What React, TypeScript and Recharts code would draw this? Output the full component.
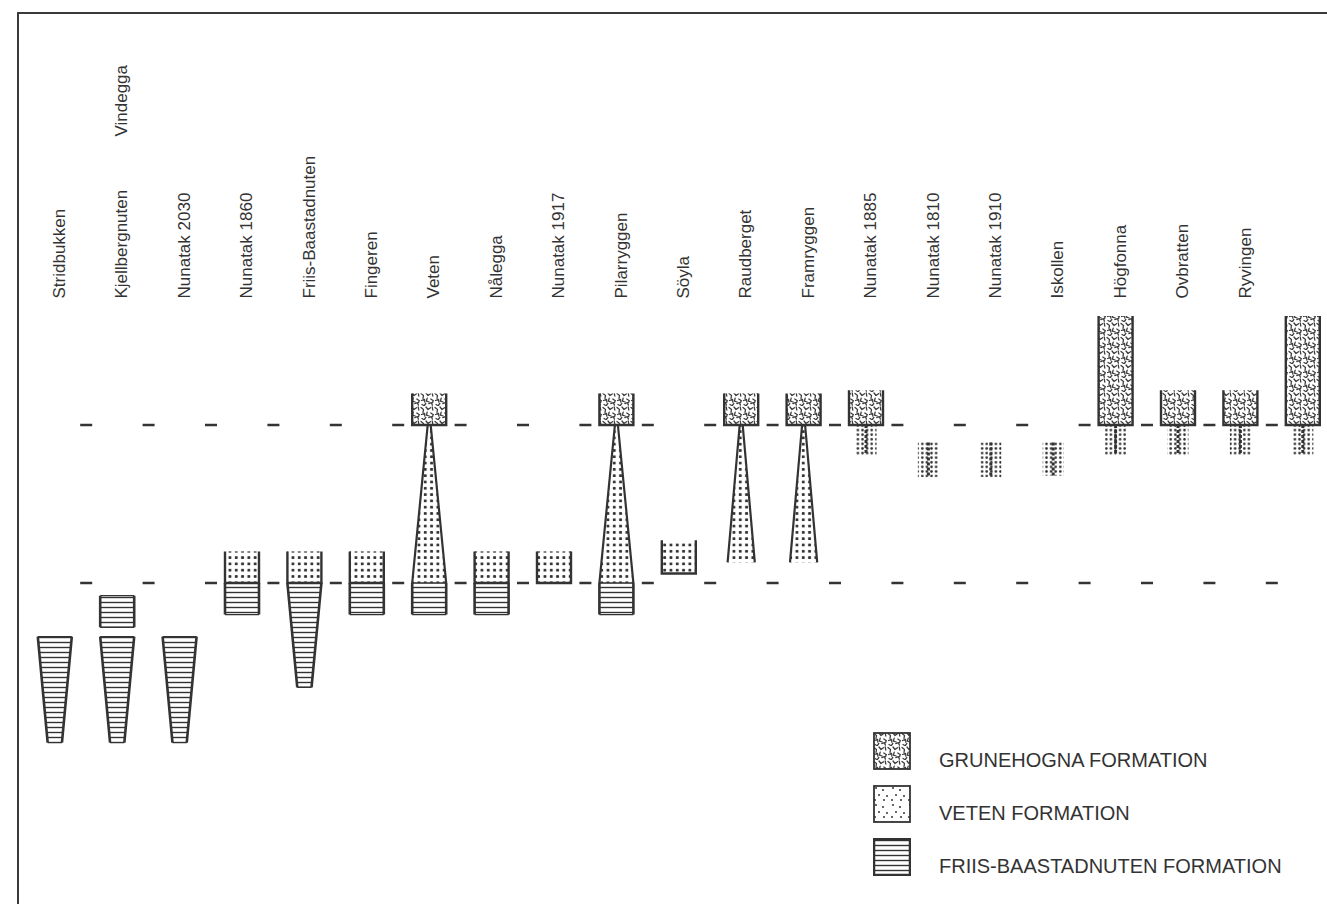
import { Bar, ComposedChart, Legend, ReferenceLine, XAxis, YAxis } from 'recharts';

type Range = [number, number] | null;

// localities, west to east (last column is unnamed in the source figure)
const localities = [
  'Stridbukken', 'Kjellbergnuten', 'Nunatak 2030', 'Nunatak 1860', 'Friis-Baastadnuten',
  'Fingeren', 'Veten', 'Nålegga', 'Nunatak 1917', 'Pilarryggen', 'Söyla', 'Raudberget',
  'Framryggen', 'Nunatak 1885', 'Nunatak 1810', 'Nunatak 1910', 'Iskollen', 'Högfonna',
  'Ovbratten', 'Ryvingen', '',
];
const extraNames: Record<number, string> = { 1: 'Vindegga' };

// relative stratigraphic height: lower marker = 0, upper marker = 100
const markerLevels = [0, 100];

const grunehogna: Range[] = [
  null, null, null, null, null, null, [100, 120], null, null, [100, 120], null,
  [100, 120], [100, 120], [100, 122], null, null, null, [100, 169], [100, 122], [100, 122], [100, 169],
];
const veten: Range[] = [
  null, null, null, [0, 20], [0, 20], [0, 20], [0, 100], [0, 20], [0, 20], [0, 100], [6, 27],
  [13, 100], [13, 100], null, null, null, null, null, null, null, null,
];
const vetenForm = [
  '', '', '', 'rect', 'rect', 'rect', 'wedge', 'rect', 'rect', 'wedge', 'rect',
  'wedgeNarrow', 'wedgeNarrow', '', '', '', '', '', '', '', '',
];
const vetenThin: Range[] = [
  null, null, null, null, null, null, null, null, null, null, null, null, null,
  [81, 100], [67, 89], [67, 89], [68, 89], [81, 100], [81, 100], [81, 100], [81, 100],
];
const friis: Range[] = [
  [-101, -34], [-101, -34], [-101, -34], [-20, 0], [-66, 0], [-20, 0], [-20, 0], [-20, 0], null,
  [-20, 0], null, null, null, null, null, null, null, null, null, null, null,
];
const friisForm = [
  'taper', 'taper', 'taper', 'rect', 'taper', 'rect', 'rect', 'rect', '', 'rect',
  '', '', '', '', '', '', '', '', '', '', '',
];
const friisUpper: Range[] = [
  null, [-28, -8], null, null, null, null, null, null, null, null, null,
  null, null, null, null, null, null, null, null, null, null,
];

const formations = ['GRUNEHOGNA FORMATION', 'VETEN FORMATION', 'FRIIS-BAASTADNUTEN FORMATION'];

const rows = localities.map((name, i) => ({
  idx: i,
  name,
  g: grunehogna[i],
  v: veten[i],
  vForm: vetenForm[i],
  vt: vetenThin[i],
  f: friis[i],
  fForm: friisForm[i],
  f2: friisUpper[i],
}));

const ink = '#333';
const font = "'Liberation Sans', Arial, sans-serif";

const LocalityTick = ({ x, y, payload }: any) => {
  const i = Number(payload.value);
  const tx = x + 10;
  return (
    <g>
      <text x={tx} y={y} transform={`rotate(-90 ${tx} ${y})`} textAnchor="start" fontSize={17} fill={ink} fontFamily={font}>
        {localities[i]}
      </text>
      {extraNames[i] && (
        <text x={tx} y={y - 162} transform={`rotate(-90 ${tx} ${y - 162})`} textAnchor="start" fontSize={17} fill={ink} fontFamily={font}>
          {extraNames[i]}
        </text>
      )}
    </g>
  );
};

const GrunehognaShape = (p: any) => {
  if (!p.payload?.g) return <g />;
  const { x, y, width: w, height: h } = p;
  return (
    <g>
      <rect x={x} y={y} width={w} height={h} fill="url(#pat-grune)" />
      <path d={`M${x},${y} V${y + h} H${x + w} V${y}`} fill="none" stroke={ink} strokeWidth={2.4} />
    </g>
  );
};

const VetenShape = (p: any) => {
  if (!p.payload?.v) return <g />;
  const { x, y, width: w, height: h } = p;
  if (p.payload.vForm === 'rect') {
    return (
      <g>
        <rect x={x} y={y} width={w} height={h} fill="url(#pat-veten)" />
        <path d={`M${x},${y} V${y + h} H${x + w} V${y}`} fill="none" stroke={ink} strokeWidth={2.4} />
      </g>
    );
  }
  const inset = p.payload.vForm === 'wedgeNarrow' ? w * 0.1 : 0;
  const cx = x + w / 2;
  const pts = `${cx - 1.5},${y} ${cx + 1.5},${y} ${x + w - inset},${y + h} ${x + inset},${y + h}`;
  return (
    <g>
      <polygon points={pts} fill="url(#pat-veten)" />
      <path d={`M${cx - 1.5},${y} L${x + inset},${y + h} M${cx + 1.5},${y} L${x + w - inset},${y + h}`} stroke={ink} strokeWidth={2.2} />
    </g>
  );
};

const VetenThinShape = (p: any) => {
  if (!p.payload?.vt) return <g />;
  const { x, y, width: w, height: h } = p;
  const cx = x + w / 2;
  return (
    <g>
      <rect x={x + w * 0.19} y={y} width={w * 0.62} height={h} fill="url(#pat-vthin)" />
      <line x1={cx} y1={y} x2={cx} y2={y + h} stroke={ink} strokeWidth={3} strokeDasharray="3 2" />
    </g>
  );
};

const friisPath = (x: number, y: number, w: number, h: number, taper: boolean) => {
  const inset = taper ? w * 0.29 : 0;
  return {
    poly: `${x},${y} ${x + w},${y} ${x + w - inset},${y + h} ${x + inset},${y + h}`,
    sides: `M${x},${y} L${x + inset},${y + h} M${x + w},${y} L${x + w - inset},${y + h}`,
    ends: `M${x},${y} H${x + w} M${x + inset},${y + h} H${x + w - inset}`,
  };
};

const FriisShape = (p: any) => {
  const key = p.dataKey === 'f2' ? 'f2' : 'f';
  if (!p.payload?.[key]) return <g />;
  const { x, y, width: w, height: h } = p;
  const d = friisPath(x, y, w, h, key === 'f' && p.payload.fForm === 'taper');
  return (
    <g>
      <polygon points={d.poly} fill="url(#pat-friis)" />
      <path d={d.ends} stroke={ink} strokeWidth={1.4} />
      <path d={d.sides} stroke={ink} strokeWidth={2.6} />
    </g>
  );
};

const legendFills = ['url(#pat-grune)', 'url(#pat-vleg)', 'url(#pat-friis)'];

const FormationLegend = () => (
  <div style={{ fontFamily: font }}>
    {formations.map((name, i) => (
      <div key={name} style={{ position: 'relative', height: 53 }}>
        <svg width={38} height={38} style={{ position: 'absolute', left: 0, top: 0 }}>
          <rect x={1} y={1} width={36} height={36} fill={legendFills[i]} stroke={ink} strokeWidth={i === 2 ? 2.5 : 1.8} />
        </svg>
        <span style={{ position: 'absolute', left: 66, top: 17, fontSize: 20, color: ink, whiteSpace: 'nowrap', lineHeight: '23px' }}>
          {name}
        </span>
      </div>
    ))}
  </div>
);

export default function App() {
  return (
    <div style={{ position: 'fixed', left: 0, top: 0, width: 1327, height: 904, overflow: 'hidden', background: '#fff', fontFamily: font }}>
      <div
        style={{
          position: 'absolute', left: 17, top: 12, width: 1340, height: 920,
          borderLeft: '2px solid #3a3a3a', borderTop: '2px solid #3a3a3a',
        }}
      />
      <div style={{ position: 'absolute', left: 0, top: 0 }}>
        <ComposedChart
          width={1336}
          height={904}
          data={rows}
          margin={{ top: 296.5, right: 1.8, bottom: 20.8, left: 23.8 }}
          barSize={34}
          barGap={-34}
        >
          <defs>
            <pattern id="pat-friis" patternUnits="userSpaceOnUse" width={6} height={5}>
              <line x1={0} y1={2.5} x2={6} y2={2.5} stroke={ink} strokeWidth={1.4} />
            </pattern>
            <pattern id="pat-veten" patternUnits="userSpaceOnUse" width={6.3} height={6.3}>
              <rect x={1.7} y={1.7} width={2.9} height={2.9} rx={0.8} fill={ink} />
            </pattern>
            <pattern id="pat-vthin" patternUnits="userSpaceOnUse" width={4.6} height={4.6}>
              <circle cx={2.3} cy={2.3} r={1.3} fill={ink} />
            </pattern>
            <pattern id="pat-vleg" patternUnits="userSpaceOnUse" width={17} height={17}>
              <circle cx={3} cy={3} r={1} fill={ink} />
              <circle cx={10} cy={5} r={1} fill={ink} />
              <circle cx={14} cy={11} r={1} fill={ink} />
              <circle cx={6} cy={10} r={1} fill={ink} />
              <circle cx={2} cy={15} r={1} fill={ink} />
              <circle cx={11} cy={15} r={1} fill={ink} />
            </pattern>
            <pattern id="pat-grune" patternUnits="userSpaceOnUse" width={14} height={14}>
              <g fill="none" stroke="#3c3c3c" strokeWidth={1.3} strokeLinecap="round" strokeLinejoin="round">
                <path d="M1 1.5 l2.5 2 l-0.5 2.8" />
                <path d="M6 1 l2 2.5 l2.5 -1.8" />
                <path d="M12.2 0.8 l0.6 3.2" />
                <path d="M1.5 8.5 l3 -1.2 l0.4 2.8" />
                <path d="M7.2 6.2 l-0.8 3 l2.8 0.8" />
                <path d="M10.8 7 l2.6 1.8" />
                <path d="M2 12.5 l2.2 1.2 l1.6 -2.2" />
                <path d="M8.8 11.6 l2.6 -1 l1 2.6" />
                <path d="M12.6 10.6 l0.2 -1" />
              </g>
            </pattern>
          </defs>
          <XAxis
            dataKey="idx"
            type="category"
            orientation="top"
            height={10}
            axisLine={false}
            tickLine={false}
            tickSize={6}
            tickMargin={2}
            interval={0}
            tick={<LocalityTick />}
          />
          <YAxis type="number" domain={[-190, 175]} allowDataOverflow hide />
          {markerLevels.map((lv) => (
            <ReferenceLine
              key={lv}
              segment={[{ x: 0, y: lv }, { x: localities.length - 1, y: lv }]}
              stroke={ink}
              strokeWidth={2.5}
              strokeDasharray="0 25.2 12 25.2"
            />
          ))}
          <Bar dataKey="f" isAnimationActive={false} shape={FriisShape} />
          <Bar dataKey="f2" isAnimationActive={false} shape={FriisShape} />
          <Bar dataKey="v" isAnimationActive={false} shape={VetenShape} />
          <Bar dataKey="vt" isAnimationActive={false} shape={VetenThinShape} />
          <Bar dataKey="g" isAnimationActive={false} shape={GrunehognaShape} />
          <Legend
            layout="vertical"
            align="center"
            verticalAlign="middle"
            content={<FormationLegend />}
            wrapperStyle={{ left: 873, top: 732, width: 440 }}
          />
        </ComposedChart>
      </div>
    </div>
  );
}
